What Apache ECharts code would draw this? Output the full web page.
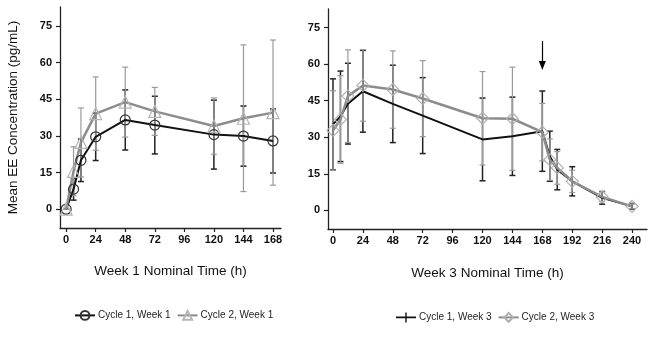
<!DOCTYPE html>
<html>
<head>
<meta charset="utf-8">
<script src="https://cdn.jsdelivr.net/npm/echarts@6/dist/echarts.min.js"></script>
<style>
  html, body { margin: 0; padding: 0; background: #fff; }
  #chart { width: 666px; height: 339px; }
</style>
</head>
<body>
<div id="chart"></div>
<script>
// ---- Data ----
const yTicks = [0, 15, 30, 45, 60, 75];
const w1Ticks = [0, 24, 48, 72, 96, 120, 144, 168];
const w3Ticks = [0, 24, 48, 72, 96, 120, 144, 168, 192, 216, 240];

const w1Times = [0, 6, 12, 24, 48, 72, 120, 144, 168];
const c1w1Mean = [0, 8.2, 20.0, 29.6, 36.5, 34.4, 30.5, 29.9, 27.9];
const c1w1Err  = [0, 4.5, 8.7, 9.7, 12.3, 11.8, 14.1, 12.3, 13.1];
const c2w1Mean = [0, 15.5, 27.3, 39.1, 43.8, 40.0, 34.0, 37.2, 39.5];
const c2w1Err  = [0, 10.0, 14.1, 15.0, 14.3, 9.8, 11.5, 30.0, 29.7];

const w3Times = [0, 6, 12, 24, 48, 72, 120, 144, 168, 174, 180, 192, 216, 240];
const c1w3Mean = [35.3, 38.6, 43.8, 48.9, 43.7, 38.9, 29.1, 30.4, 32.5, 22.2, 16.7, 11.9, 5.1, 1.6];
const c1w3Err  = [18.7, 18.6, 16.6, 16.8, 15.9, 15.6, 17.0, 16.1, 16.5, 10.3, 8.3, 6.0, 2.6, 1.2];
const c2w3Mean = [32.8, 37.3, 46.9, 51.3, 49.6, 45.9, 37.8, 37.6, 32.1, 20.8, 17.4, 11.9, 5.5, 1.6];
const c2w3Err  = [16.3, 18.0, 19.0, 14.7, 15.9, 15.6, 19.2, 21.2, 11.8, 8.5, 6.7, 4.6, 2.0, 1.0];

const doseTime = 168;
const arrowTop = 69.5;
const arrowEnd = 59.5;

// ---- Helpers ----
const FONT = "'Liberation Sans', Arial, sans-serif";
function pairs(t, m) { return t.map((x, i) => [x, m[i]]); }
function bars(t, m, e) { return t.map((x, i) => [x, m[i] - e[i], m[i] + e[i]]); }
function errRender(color, width) {
  return function (params, api) {
    const x = api.value(0);
    const lo = api.coord([x, api.value(1)]);
    const hi = api.coord([x, api.value(2)]);
    const c = 3;
    const style = { stroke: color, lineWidth: width, fill: null };
    return {
      type: 'group',
      children: [
        { type: 'line', shape: { x1: lo[0], y1: lo[1], x2: hi[0], y2: hi[1] }, style: style },
        { type: 'line', shape: { x1: hi[0] - c, y1: hi[1], x2: hi[0] + c, y2: hi[1] }, style: style },
        { type: 'line', shape: { x1: lo[0] - c, y1: lo[1], x2: lo[0] + c, y2: lo[1] }, style: style }
      ]
    };
  };
}
function xAx(grid, min, max, ticks, name, gap) {
  return {
    gridIndex: grid, type: 'value', min: min, max: max,
    axisLine: { show: true, onZero: false, lineStyle: { color: '#222', width: 1.3 } },
    axisTick: { show: true, customValues: ticks, length: 4, lineStyle: { color: '#222', width: 1.2 } },
    axisLabel: { customValues: ticks, fontWeight: 'bold', fontSize: 11, color: '#111', margin: 6, fontFamily: FONT },
    splitLine: { show: false },
    name: name, nameLocation: 'middle', nameGap: gap,
    nameTextStyle: { fontSize: 13.5, color: '#111', fontFamily: FONT }
  };
}
function yAx(grid, name) {
  const a = {
    gridIndex: grid, type: 'value', min: -7.7, max: 82.7,
    axisLine: { show: true, onZero: false, lineStyle: { color: '#222', width: 1.3 } },
    axisTick: { show: true, customValues: yTicks, length: 4, lineStyle: { color: '#222', width: 1.2 } },
    axisLabel: { customValues: yTicks, fontWeight: 'bold', fontSize: 11, color: '#111', margin: 8, fontFamily: FONT },
    splitLine: { show: false }
  };
  if (name) {
    a.name = name; a.nameLocation = 'middle'; a.nameGap = 40; a.nameRotate = 90;
    a.nameTextStyle = { fontSize: 13.5, color: '#111', fontFamily: FONT };
  }
  return a;
}

const BLACK = '#111';
const GRAY = '#8c8c8c';
const crossIcon = 'path://M0,4.1 L20,4.1 L20,5.9 L0,5.9 Z M9.3,0 L10.7,0 L10.7,10 L9.3,10 Z';

const option = {
  animation: false,
  backgroundColor: '#fff',
  textStyle: { fontFamily: FONT },
  grid: [
    { left: 60, top: 7, width: 221, height: 221 },
    { left: 328, top: 9, width: 319, height: 220 }
  ],
  xAxis: [
    xAx(0, -5, 174.5, w1Ticks, 'Week 1 Nominal Time (h)', 36),
    xAx(1, -4, 252, w3Ticks, 'Week 3 Nominal Time (h)', 37)
  ],
  yAxis: [yAx(0, 'Mean EE Concentration (pg/mL)'), yAx(1, null)],
  legend: [
    {
      data: ['Cycle 1, Week 1', 'Cycle 2, Week 1'],
      left: 69, top: 305, itemWidth: 20, itemHeight: 11, itemGap: 6,
      textStyle: { fontSize: 10, color: '#222', fontFamily: FONT, padding: [0, 0, 0, -2] },
      selectedMode: false
    },
    {
      data: [{ name: 'Cycle 1, Week 3', icon: crossIcon }, 'Cycle 2, Week 3'],
      left: 391, top: 307, itemWidth: 20, itemHeight: 11, itemGap: 6,
      textStyle: { fontSize: 10, color: '#222', fontFamily: FONT, padding: [0, 0, 0, -2] },
      selectedMode: false
    }
  ],
  series: [
    // Week 1
    { type: 'custom', name: 'c1w1err', xAxisIndex: 0, yAxisIndex: 0,
      renderItem: errRender('#222', 1.5), data: bars(w1Times, c1w1Mean, c1w1Err),
      encode: { x: 0, y: [1, 2] }, silent: true },
    { type: 'line', name: 'Cycle 1, Week 1', xAxisIndex: 0, yAxisIndex: 0,
      data: pairs(w1Times, c1w1Mean), symbol: 'circle', symbolSize: 10,
      lineStyle: { color: BLACK, width: 2 },
      itemStyle: { color: 'rgba(0,0,0,0)', borderColor: '#333', borderWidth: 1.2 } },
    { type: 'custom', name: 'c2w1err', xAxisIndex: 0, yAxisIndex: 0,
      renderItem: errRender('#9a9a9a', 1.2), data: bars(w1Times, c2w1Mean, c2w1Err),
      encode: { x: 0, y: [1, 2] }, silent: true },
    { type: 'line', name: 'Cycle 2, Week 1', xAxisIndex: 0, yAxisIndex: 0,
      data: pairs(w1Times, c2w1Mean), symbol: 'triangle', symbolSize: 12,
      lineStyle: { color: GRAY, width: 2.5 },
      itemStyle: { color: 'rgba(0,0,0,0)', borderColor: '#b5b5b5', borderWidth: 1.2 } },
    // Week 3
    { type: 'custom', name: 'c1w3err', xAxisIndex: 1, yAxisIndex: 1,
      renderItem: errRender('#222', 1.5), data: bars(w3Times, c1w3Mean, c1w3Err),
      encode: { x: 0, y: [1, 2] }, silent: true },
    { type: 'line', name: 'Cycle 1, Week 3', xAxisIndex: 1, yAxisIndex: 1,
      data: pairs(w3Times, c1w3Mean),
      symbol: 'none',
      lineStyle: { color: BLACK, width: 2 },
      itemStyle: { color: BLACK },
      markLine: {
        silent: true, symbol: ['none', 'triangle'], symbolSize: [7, 9],
        label: { show: false },
        lineStyle: { color: '#000', width: 1.2, type: 'solid' },
        data: [[{ coord: [doseTime, arrowTop] }, { coord: [doseTime, arrowEnd] }]]
      } },
    { type: 'custom', name: 'c2w3err', xAxisIndex: 1, yAxisIndex: 1,
      renderItem: errRender('#9a9a9a', 1.2), data: bars(w3Times, c2w3Mean, c2w3Err),
      encode: { x: 0, y: [1, 2] }, silent: true },
    { type: 'line', name: 'Cycle 2, Week 3', xAxisIndex: 1, yAxisIndex: 1,
      data: pairs(w3Times, c2w3Mean), symbol: 'diamond', symbolSize: 12,
      lineStyle: { color: GRAY, width: 2.5 },
      itemStyle: { color: 'rgba(0,0,0,0)', borderColor: '#b0b0b0', borderWidth: 1.2 } }
  ]
};

const chart = echarts.init(document.getElementById('chart'), null, { renderer: 'canvas' });
chart.setOption(option);
</script>
</body>
</html>
